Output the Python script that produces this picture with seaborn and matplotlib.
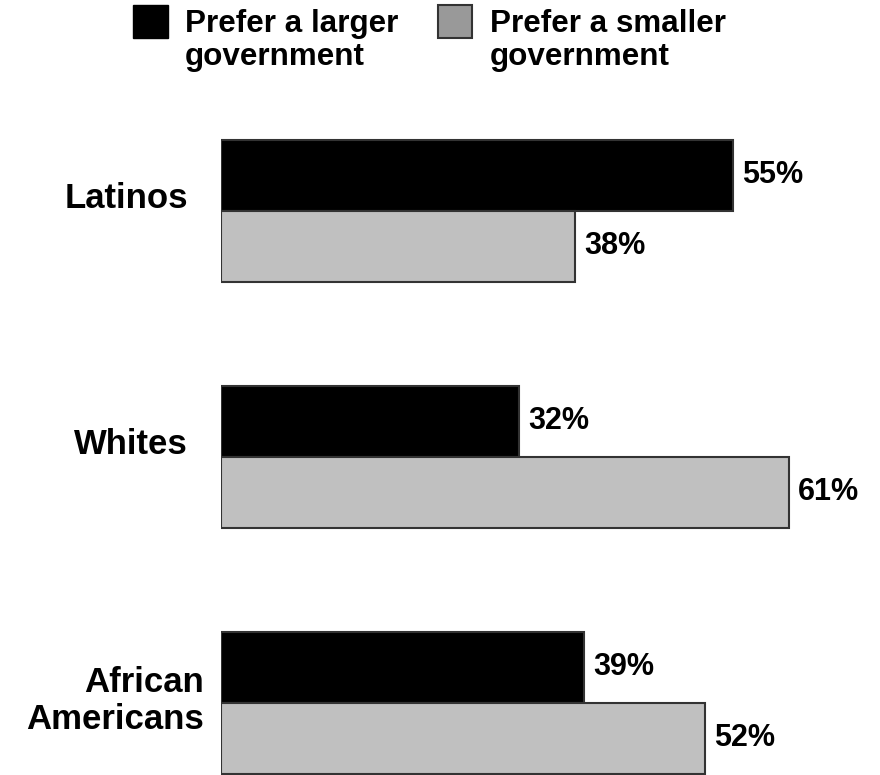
import matplotlib
matplotlib.use("Agg")
import matplotlib.pyplot as plt
import matplotlib.transforms as mtransforms
from matplotlib.patches import Rectangle
import pandas as pd
import seaborn as sns

# data
groups = ["Latinos", "Whites", "African\nAmericans"]
larger = [55, 32, 39]
smaller = [38, 61, 52]
series = ["Prefer a larger\ngovernment", "Prefer a smaller\ngovernment"]

df = pd.DataFrame({
    "group": groups * 2,
    "pct": larger + smaller,
    "pref": [series[0]] * len(groups) + [series[1]] * len(groups),
})

sns.set_style("white")
plt.rcParams["font.family"] = ["Liberation Sans", "DejaVu Sans"]
plt.rcParams["font.weight"] = "bold"
plt.rcParams["text.color"] = "black"
plt.rcParams["ytick.color"] = "black"
plt.rcParams["ytick.labelcolor"] = "black"

fig = plt.figure(figsize=(8.8, 7.75), dpi=100)
ax = fig.add_axes([221 / 880, -0.0023, 652 / 880, 688.8 / 775])

sns.barplot(data=df, y="group", x="pct", hue="pref", orient="h",
            palette=["black", "#c0c0c0"], width=0.577, dodge=True,
            edgecolor="#333333", linewidth=1.5, errorbar=None,
            legend=False, ax=ax)

ax.set_xlim(0, 70)
ax.set_ylim(2.3, -0.5)
ax.set_xticks([])
ax.set_xlabel("")
ax.set_ylabel("")
sns.despine(ax=ax, left=True, bottom=True)
ax.tick_params(axis="y", length=0, pad=23.8, labelsize=25, labelcolor="black")

# value labels
for cont in ax.containers:
    ax.bar_label(cont, fmt="%d%%", padding=6.5, fontsize=22,
                 fontweight="bold", color="black")

# nudge category labels like the original
for lab in ax.get_yticklabels():
    multi = "\n" in lab.get_text()
    dx = 16 if multi else 0
    dy = 7 if multi else 16
    lab.set_multialignment("right")
    lab.set_linespacing(1.12)
    lab.set_color("black")
    lab.set_transform(lab.get_transform() +
                      mtransforms.ScaledTranslation(dx / 100, dy / 100, fig.dpi_scale_trans))

# legend drawn by hand (squares aligned with first text line)
fig.add_artist(Rectangle((133 / 880, 1 - 38 / 775), 35 / 880, 33 / 775,
                         transform=fig.transFigure, facecolor="black", edgecolor="black"))
fig.add_artist(Rectangle((438 / 880, 1 - 38 / 775), 34 / 880, 33 / 775,
                         transform=fig.transFigure, facecolor="#999999",
                         edgecolor="#333333", linewidth=1.5))
fig.text(185 / 880, 1 - 9 / 775, series[0], va="top", ha="left",
         fontsize=22.6, fontweight="bold", linespacing=1.11, color="black")
fig.text(490 / 880, 1 - 9 / 775, series[1], va="top", ha="left",
         fontsize=22.6, fontweight="bold", linespacing=1.11, color="black")

fig.savefig("out.png", dpi=100)
